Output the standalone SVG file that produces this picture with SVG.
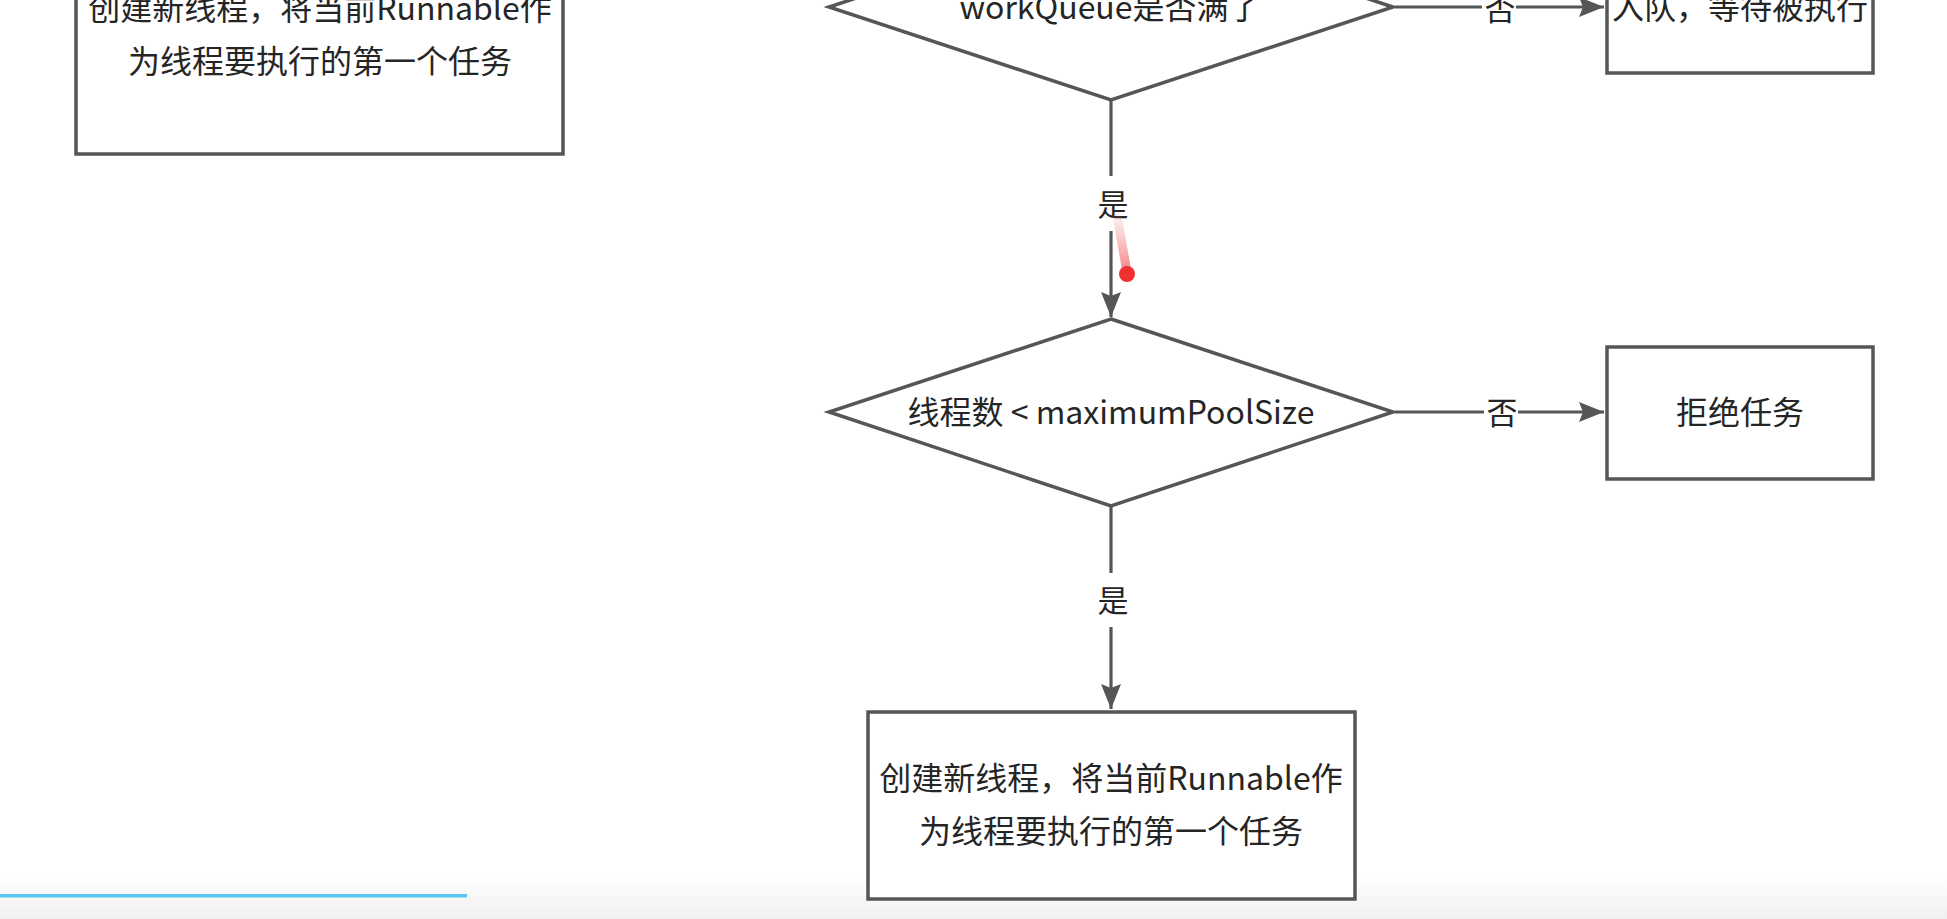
<svg xmlns="http://www.w3.org/2000/svg" width="1947" height="919" viewBox="0 0 1947 919">
<style>
.shape{fill:#ffffff;stroke:#565656;stroke-width:3.5}
.edge{fill:none;stroke:#565656;stroke-width:3.2}
.t{font-family:"Noto Sans CJK SC","Noto Sans",sans-serif;font-size:32px;fill:#252525;text-anchor:middle;dominant-baseline:central}
.lbl{font-family:"Noto Sans CJK SC","Noto Sans",sans-serif;font-size:31px;fill:#252525;text-anchor:middle;dominant-baseline:central}
.lblbg{fill:#ffffff;stroke:none}
</style>
<defs>
<marker id="arrow" markerUnits="userSpaceOnUse" markerWidth="27" markerHeight="21" refX="25" refY="10" orient="auto">
<path d="M0,0 L25,10 L0,20 L4,10 z" fill="#565656"/>
</marker>
<linearGradient id="floor" x1="0" y1="0" x2="0" y2="1">
<stop offset="0" stop-color="#ffffff"/>
<stop offset="1" stop-color="#f0f0f0"/>
</linearGradient>
<linearGradient id="trail" x1="1117" y1="215" x2="1127" y2="274" gradientUnits="userSpaceOnUse">
<stop offset="0" stop-color="#f07a7a" stop-opacity="0.1"/>
<stop offset="1" stop-color="#f06060" stop-opacity="0.8"/>
</linearGradient>
</defs>
<rect x="0" y="0" width="1947" height="919" fill="#ffffff"/>
<rect x="0" y="875" width="1947" height="44" fill="url(#floor)"/>

<g id="connectors">
<line class="edge" x1="1395" y1="7" x2="1604" y2="7" marker-end="url(#arrow)"/>
<rect class="lblbg" x="1482" y="-20" width="34" height="54"/>
<text class="lbl" x="1500" y="6">否</text>

<line class="edge" x1="1111" y1="101" x2="1111" y2="317" marker-end="url(#arrow)"/>
<rect class="lblbg" x="1095" y="176" width="36" height="55"/>
<text class="lbl" x="1113" y="202">是</text>

<line class="edge" x1="1395" y1="412" x2="1604" y2="412" marker-end="url(#arrow)"/>
<rect class="lblbg" x="1484" y="386" width="34" height="54"/>
<text class="lbl" x="1502" y="410">否</text>

<line class="edge" x1="1111" y1="507" x2="1111" y2="709" marker-end="url(#arrow)"/>
<rect class="lblbg" x="1095" y="573" width="36" height="54"/>
<text class="lbl" x="1113" y="598">是</text>
</g>

<g id="node-create-top">
<rect class="shape" x="76" y="-100" width="487" height="254"/>
<text class="t" x="320" y="6">创建新线程，将当前Runnable作</text>
<text class="t" x="320" y="59">为线程要执行的第一个任务</text>
</g>

<g id="node-queue-full">
<polygon class="shape" points="1111,-86 1393,7 1111,100 829,7"/>
<text class="t" x="1110" y="5">workQueue是否满了</text>
</g>

<g id="node-enqueue">
<rect class="shape" x="1607" y="-59" width="266" height="132"/>
<text class="t" x="1740" y="5">入队，等待被执行</text>
</g>

<g id="node-max-pool">
<polygon class="shape" points="1111,319 1393,412 1111,506 829,412"/>
<text class="t" x="1111" y="410">线程数 &lt; maximumPoolSize</text>
</g>

<g id="node-reject">
<rect class="shape" x="1607" y="347" width="266" height="132"/>
<text class="t" x="1740" y="410">拒绝任务</text>
</g>

<g id="node-create-bottom">
<rect class="shape" x="868" y="712" width="487" height="187"/>
<text class="t" x="1111" y="776">创建新线程，将当前Runnable作</text>
<text class="t" x="1111" y="829">为线程要执行的第一个任务</text>
</g>

<g id="pointer">
<line x1="1117" y1="216" x2="1127" y2="272" stroke="url(#trail)" stroke-width="9" stroke-linecap="round"/>
<circle cx="1127" cy="274" r="8" fill="#ee3030"/>
</g>

<rect x="0" y="894" width="467" height="3.5" fill="#56c6ef"/>
</svg>
